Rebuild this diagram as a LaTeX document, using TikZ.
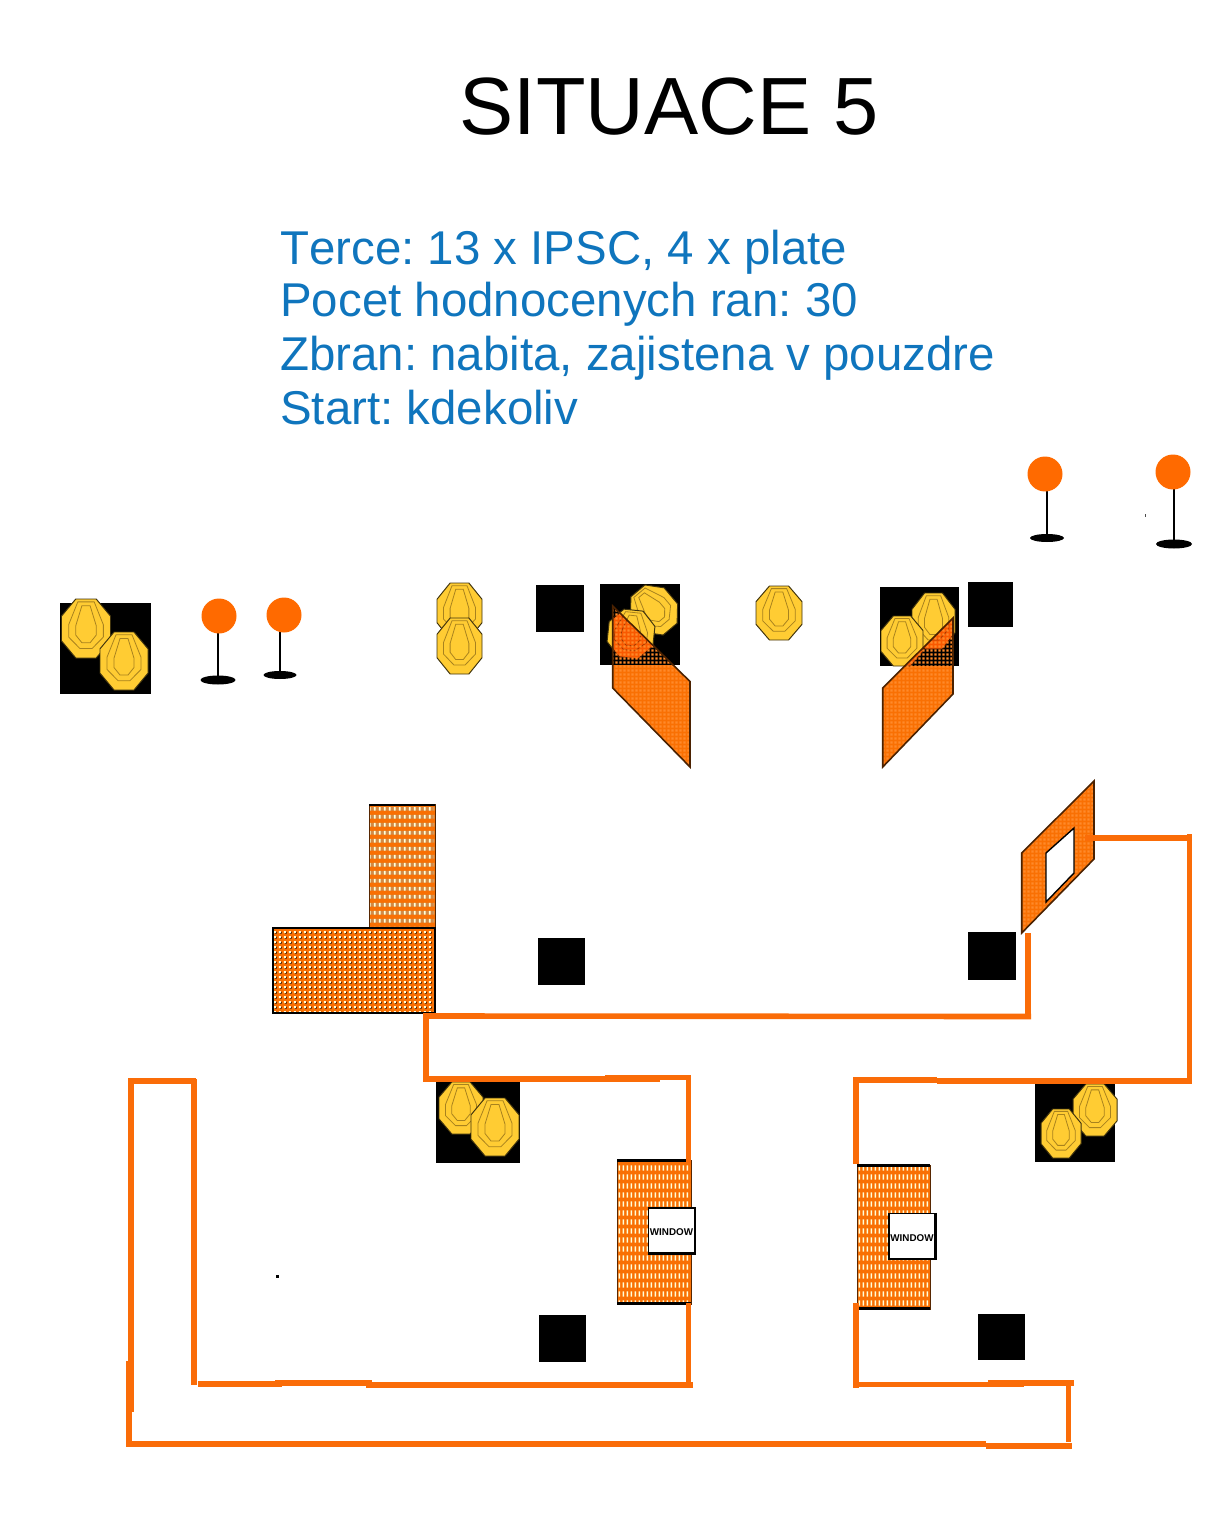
\documentclass[tikz,border=0pt]{standalone}
\usepackage{fontspec}
\setmainfont{Liberation Sans}
\usetikzlibrary{patterns}
\definecolor{wallorange}{HTML}{F97003}
\definecolor{lineorange}{HTML}{FA6C08}
\definecolor{plateorange}{HTML}{FF6A00}
\definecolor{dotorange}{HTML}{FF8A2A}
\definecolor{targetyellow}{HTML}{FFCC33}
\definecolor{ringbrown}{HTML}{A8821E}
\definecolor{rowbrown}{HTML}{D08A48}
\definecolor{infoblue}{HTML}{0F75BD}

% wall textures
\pgfdeclarepatternformonly{rowband}{\pgfqpoint{0pt}{0pt}}{\pgfqpoint{2.8pt}{4.6pt}}{\pgfqpoint{2.8pt}{4.6pt}}{
  \pgfpathrectangle{\pgfqpoint{0pt}{0.8pt}}{\pgfqpoint{2.8pt}{2.4pt}}
  \pgfusepath{fill}
}
\pgfdeclarepatternformonly{brickwide}{\pgfqpoint{0pt}{0pt}}{\pgfqpoint{2.8pt}{4.6pt}}{\pgfqpoint{2.8pt}{4.6pt}}{
  \pgfpathrectangle{\pgfqpoint{0.5pt}{0.8pt}}{\pgfqpoint{1pt}{2.4pt}}
  \pgfusepath{fill}
}
\pgfdeclarepatternformonly{bricktall}{\pgfqpoint{0pt}{0pt}}{\pgfqpoint{2.2pt}{5.3pt}}{\pgfqpoint{2.2pt}{5.3pt}}{
  \pgfpathrectangle{\pgfqpoint{0.4pt}{0.8pt}}{\pgfqpoint{0.8pt}{3.2pt}}
  \pgfusepath{fill}
}
\pgfdeclarepatternformonly{dotgrid}{\pgfqpoint{0pt}{0pt}}{\pgfqpoint{3pt}{3pt}}{\pgfqpoint{3pt}{3pt}}{
  \pgfpathrectangle{\pgfqpoint{0.6pt}{0.6pt}}{\pgfqpoint{1.3pt}{1.3pt}}
  \pgfusepath{fill}
}
\pgfdeclarepatternformonly{dotshadow}{\pgfqpoint{0pt}{0pt}}{\pgfqpoint{3pt}{3pt}}{\pgfqpoint{3pt}{3pt}}{
  \pgfpathrectangle{\pgfqpoint{1.3pt}{0.2pt}}{\pgfqpoint{1.1pt}{1.1pt}}
  \pgfusepath{fill}
}
\pgfdeclarepatternformonly{finedot}{\pgfqpoint{0pt}{0pt}}{\pgfqpoint{2pt}{2pt}}{\pgfqpoint{2pt}{2pt}}{
  \pgfpathrectangle{\pgfqpoint{0.25pt}{0.25pt}}{\pgfqpoint{1.45pt}{1.45pt}}
  \pgfusepath{fill}
}

\begin{document}
\frenchspacing
\begin{tikzpicture}[
    x=0.02cm, y=-0.02cm,
    title/.style={font=\fontsize{46.2}{50}\selectfont, anchor=base west, inner sep=0pt},
    info/.style={font=\fontsize{27}{30}\selectfont, text=infoblue, anchor=base west, inner sep=0pt},
    wall_line/.style={draw=lineorange, line width=3.2pt, line cap=butt},
    stopbox/.style={fill=black},
    brick_fill/.style={fill=wallorange},
    thin_edge/.style={draw=black!65!wallorange, line width=0.5pt},
    thick_edge/.style={draw=black, line width=1.2pt},
    slant_edge/.style={draw=black!70!wallorange, line width=0.9pt},
    tick_fill/.style={pattern color=white!85!yellow},
    window_box/.style={draw=black, fill=white, line width=0.7pt, minimum width=0.92cm, minimum height=0.9cm, inner sep=0pt, font=\fontsize{5.6}{6}\selectfont\bfseries},
    target/.pic={
        \fill[targetyellow, draw=black!75!targetyellow, line width=0.55pt]
            (-10,-31) -- (10,-31) -- (24,-13) -- (24,13) -- (10,31) -- (-10,31) -- (-24,13) -- (-24,-13) -- cycle;
        \draw[ringbrown, line width=0.45pt]
            (-8,-28) -- (8,-28) -- (17,-4) -- (17,9) -- (6,21) -- (-6,21) -- (-17,9) -- (-17,-4) -- cycle;
        \draw[ringbrown, line width=0.45pt]
            (-4,-24) -- (4,-24) -- (10,-3) -- (10,7) -- (4,15) -- (-4,15) -- (-10,7) -- (-10,-3) -- cycle;
    }
]
\useasboundingbox (0,0) rectangle (1220,1530);

% Heading and stage data
\node[title] (heading) at (459,135) {SITUACE 5};
\node[info] (line_targets) at (280,265) {\addfontfeature{Kerning=Off}Terce: 13 x IPSC, 4 x plate};
\node[info] (line_rounds) at (280,317) {Pocet hodnocenych ran: 30};
\node[info] (line_gun) at (280,371) {Zbran: nabita, zajistena v pouzdre};
\node[info] (line_start) at (280,424) {Start: kdekoliv};

% Black squares
\foreach \xa/\ya/\xb/\yb in {60/603/151/694, 536/585/584/632, 600/584/680/665, 880/587/959/666,
    968/582/1013/627, 538/938/585/985, 968/932/1016/980, 436/1079/520/1163, 1035/1082/1115/1162,
    539/1315/586/1362, 978/1314/1025/1360}
    \fill[stopbox] (\xa,\ya) rectangle (\xb,\yb);

% Targets
\foreach \px/\py/\turn/\w/\h in {86/628.5/0/49/59, 124/661/0/48/58, 459.5/611/0/45/56, 459.5/646/0/45/56,
    654/610/40/44/50, 631/634/-6/46/48, 779/613/0/46/54, 933.5/621/0/43/56, 902/641/0/42/50,
    461/1108/0/44/52, 495/1127/0/48/58, 1095/1110/0/44/52, 1061/1133.5/0/40/49}
    \pic[rotate=\turn, xscale={\w/48}, yscale={\h/62}] at (\px,\py) {target};

% Plates
\foreach \cx/\cy/\sx/\sy/\rx/\ry in {219/616/218/680/17.5/4.5, 284/615/280/675/16.5/4,
    1045/474/1047/538/17/4, 1173/472/1174/544/18/4.5} {
    \draw[black, line width=1.1pt] (\sx,\cy) -- (\sx,\sy);
    \fill[black] (\sx,\sy) ellipse [x radius=\rx, y radius=\ry];
    \fill[plateorange] (\cx,\cy) circle [radius=17.5];
}

% Slanted walls over the targets
\fill[wallorange, blend mode=multiply] (612.7,606) -- (690,681.5) -- (690,767) -- (612.7,688) -- cycle;
\fill[pattern=finedot, pattern color=dotorange] (612.7,606) -- (690,681.5) -- (690,767) -- (612.7,688) -- cycle;
\draw[slant_edge] (612.7,606) -- (690,681.5) -- (690,767) -- (612.7,688) -- cycle;
\fill[wallorange, blend mode=multiply] (953,618) -- (953,694) -- (882.7,767) -- (882.7,688) -- cycle;
\fill[pattern=finedot, pattern color=dotorange] (953,618) -- (953,694) -- (882.7,767) -- (882.7,688) -- cycle;
\draw[slant_edge] (953,618) -- (953,694) -- (882.7,767) -- (882.7,688) -- cycle;

% Brick walls
\fill[brick_fill] (369,804) rectangle (435,928);
\fill[pattern=rowband, pattern color=rowbrown] (370,807) rectangle (434,927);
\fill[tick_fill, pattern=brickwide] (370,807) rectangle (434,927);
\draw[thin_edge] (369,804) rectangle (435,928);
\draw[thick_edge] (369,805) -- (435,805);
\fill[brick_fill] (273,928) rectangle (435,1013);
\fill[pattern=dotshadow, pattern color=black] (274,929) rectangle (434,1012);
\fill[tick_fill, pattern=dotgrid] (274,929) rectangle (434,1012);
\draw[black, line width=0.8pt] (273,928) rectangle (435,1013);

\fill[brick_fill] (617,1160) rectangle (691,1304);
\fill[tick_fill, pattern=bricktall] (618,1162) rectangle (690,1303);
\draw[thin_edge] (617,1160) rectangle (691,1304);
\draw[thick_edge] (617,1160.5) -- (691,1160.5);
\draw[thick_edge] (617,1303.5) -- (691,1303.5);
\fill[brick_fill] (857,1165) rectangle (930,1309);
\fill[tick_fill, pattern=bricktall] (858,1167) rectangle (929,1308);
\draw[thin_edge] (857,1165) rectangle (930,1309);
\draw[thick_edge] (857,1165.5) -- (930,1165.5);
\draw[thick_edge] (857,1308.5) -- (930,1308.5);

% Windows
\node[window_box] (window_left) at (671.5,1230.5) {\smash{\raisebox{-3.1pt}{WINDOW}}};
\node[window_box] (window_right) at (912,1236) {\smash{\raisebox{-3.1pt}{WINDOW}}};
\draw[thick_edge] (window_left.north east) -- (window_left.south east) -- (window_left.south west);
\draw[thick_edge] (window_right.north east) -- (window_right.south east) -- (window_right.south west);

% Slanted wall with opening
\fill[wallorange] (1021.7,853) -- (1094,781) -- (1094,859) -- (1021.7,933) -- cycle;
\fill[pattern=finedot, pattern color=dotorange] (1021.7,853) -- (1094,781) -- (1094,859) -- (1021.7,933) -- cycle;
\draw[slant_edge] (1021.7,853) -- (1094,781) -- (1094,859) -- (1021.7,933) -- cycle;
\draw[black, fill=white, line width=0.8pt] (1046,853) -- (1074,828) -- (1074,873) -- (1046,902) -- cycle;

% Fault lines, laid down piece by piece
\foreach \xa/\ya/\xb/\yb in {1028/933/1028/1019, 1031/1016.5/423/1016, 426/1014/426/1081, 423/1079/660/1079,
    605/1077.5/691/1077.5, 688.5/1075/688.5/1163, 688.5/1303/688.5/1388, 693/1384.7/366/1384.7,
    372/1382.7/275/1382.7, 282/1383.7/198/1383.7, 193.7/1385/193.7/1079, 196/1081/128/1081,
    130.7/1078/130.7/1412, 128.7/1361/128.7/1447, 126/1443.7/986/1443.7, 986/1445.7/1071.7/1445.7,
    1068.3/1441.7/1068.3/1380, 1074/1382.7/988/1382.7, 1024/1384.3/853/1384.3, 855.7/1388/855.7/1303,
    855.7/1164/855.7/1077, 853/1080/937/1080, 937/1081/1192/1081, 1189.5/1083/1189.5/834,
    1192/838/1085/838}
    \draw[wall_line] (\xa,\ya) -- (\xb,\yb);

% Stray specks
\fill[black] (276,1275) rectangle (279,1277.5);
\fill[black!70] (1144.5,514) rectangle (1146,517);

\end{tikzpicture}
\end{document}
